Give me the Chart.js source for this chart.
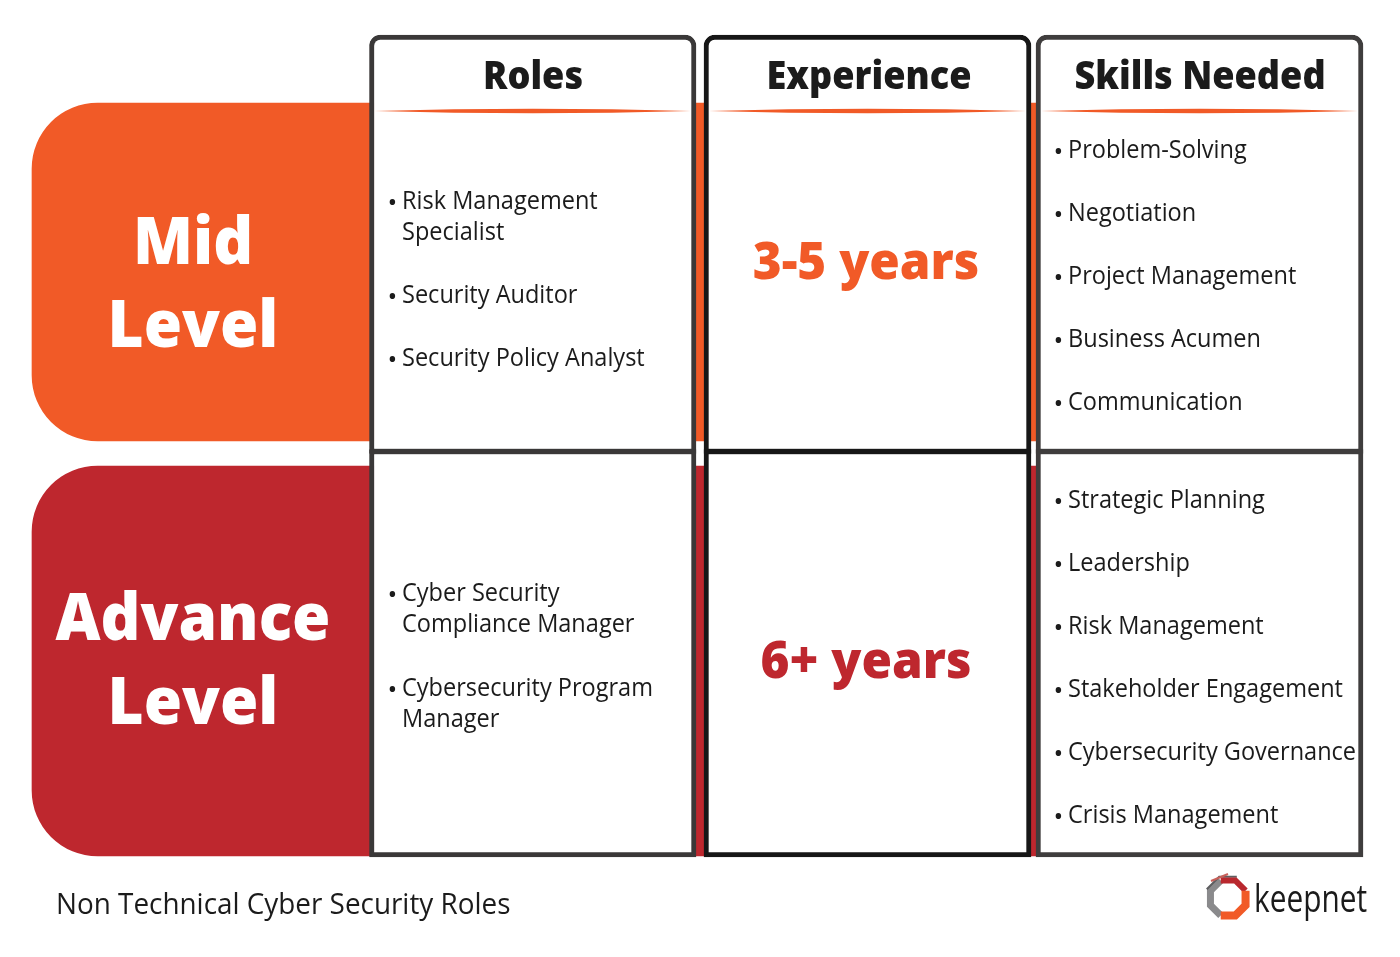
<!DOCTYPE html>
<html>
<head>
<meta charset="utf-8">
<style>html,body{margin:0;padding:0;background:#fff}#w{position:relative;width:1400px;height:957px}</style>
<script src="https://cdn.jsdelivr.net/npm/chart.js@4"></script>
</head>
<body>
<div id="w"><canvas id="c" width="1400" height="957"></canvas></div>
<script>
const levelLines = [["Mid","Level"],["Advance","Level"]];
const columnTitles = ["Roles","Experience","Skills Needed"];
const experience = ["3-5 years","6+ years"];
const midRoles = [["Risk Management","Specialist"],["Security Auditor"],["Security Policy Analyst"]];
const advanceRoles = [["Cyber Security","Compliance Manager"],["Cybersecurity Program","Manager"]];
const midSkills = ["Problem-Solving","Negotiation","Project Management","Business Acumen","Communication"];
const advanceSkills = ["Strategic Planning","Leadership","Risk Management","Stakeholder Engagement","Cybersecurity Governance","Crisis Management"];
const footerTitle = "Non Technical Cyber Security Roles";
const brand = "keepnet";
const bandStart = [32,32];
const bandEnd = [1036,1036];
const bandTop = [103,466];
const bandBottom = [441,856];
const columnStart = [369.5,704,1036];
const columnEnd = [696,1031,1363];
const rowTop = [35,449.5];
const rowBottom = [453.5,857];

const ORANGE="#F15A27", RED="#BE272E", INK="#1b1b1b";
const levelColors=[ORANGE,RED];
const columnBorders=["#3a3838","#171717","#3f3d3d"];

const datasets=[];
bandStart.forEach((s,i)=>datasets.push({
  label:levelLines[i].join(" "),
  data:[{x:[s,bandEnd[i]],y:(bandTop[i]+bandBottom[i])/2}],
  barThickness:bandBottom[i]-bandTop[i],
  backgroundColor:levelColors[i],borderWidth:0,borderSkipped:false,
  borderRadius:{topLeft:66,bottomLeft:66,topRight:0,bottomRight:0},
  grouped:false,order:3
}));
[1,0].forEach(r=>columnStart.forEach((s,c)=>datasets.push({
  label:columnTitles[c]+" "+levelLines[r].join(" "),
  data:[{x:[s,columnEnd[c]],y:(rowTop[r]+rowBottom[r])/2}],
  barThickness:rowBottom[r]-rowTop[r],
  backgroundColor:"#fff",borderColor:columnBorders[c],borderWidth:5,borderSkipped:false,
  borderRadius:r===0?{topLeft:11,topRight:11,bottomLeft:0,bottomRight:0}:0,
  grouped:false,order:2
})));

function put(ctx,s,x,y,font,color,k,align){
  ctx.font=font;ctx.fillStyle=color;ctx.textAlign=align||"left";ctx.textBaseline="alphabetic";
  const w=ctx.measureText(s).width;
  ctx.fillText(s,x,y,w*k);
}
const BODY="400 26px 'Open Sans'", BK=0.905;
function item(ctx,lines,bx,tx,y,lh){
  put(ctx,"•",bx,y+2,"400 26px 'Open Sans'",INK,1);
  lines.forEach((l,i)=>put(ctx,l,tx,y+i*lh,BODY,INK,BK));
}
function lens(ctx,x0,x1,y,h){
  ctx.fillStyle=ORANGE;ctx.beginPath();
  ctx.moveTo(x0,y);ctx.quadraticCurveTo(x0+(x1-x0)*0.25,y-h,(x0+x1)/2,y-h);ctx.quadraticCurveTo(x0+(x1-x0)*0.75,y-h,x1,y);
  ctx.quadraticCurveTo(x0+(x1-x0)*0.75,y+h,(x0+x1)/2,y+h);ctx.quadraticCurveTo(x0+(x1-x0)*0.25,y+h,x0,y);ctx.fill();
}
function logo(ctx){
  const cx=1228,cy=898,R=19;
  const seg=(a0,a1,col,lw,rr)=>{
    ctx.strokeStyle=col;ctx.lineWidth=lw;ctx.lineJoin="miter";ctx.beginPath();
    for(let a=a0;a<=a1+0.1;a+=45){
      const t=a*Math.PI/180,px=cx+(rr||R)*Math.cos(t),py=cy+(rr||R)*Math.sin(t);
      a===a0?ctx.moveTo(px,py):ctx.lineTo(px,py);
    }
    ctx.stroke();
  };
  seg(112.5,247.5,"#8a8a8c",7);
  seg(202.5,292.5,"#5e5e60",2,23);
  seg(247.5,337.5,"#B9282E",6);
  seg(225,292.5,"#c8605a",2,24);
  seg(337.5,472.5,"#F15A27",8);
}
const textPlugin={id:"text",afterDatasetsDraw(chart){
  const ctx=chart.ctx,X=chart.scales.x,Y=chart.scales.y;
  ctx.save();
  columnStart.forEach((s,i)=>lens(ctx,X.getPixelForValue(s)+5,X.getPixelForValue(columnEnd[i])-5,Y.getPixelForValue(111),2.2));
  const tx=[533,869,1200];
  columnTitles.forEach((t,i)=>put(ctx,t,tx[i],Y.getPixelForValue(89),"800 38px 'Open Sans'",INK,0.95,"center"));
  const bl=[[264,347],[640,724]];
  levelLines.forEach((ls,i)=>ls.forEach((l,j)=>put(ctx,l,193,Y.getPixelForValue(bl[i][j]),"800 66px 'Open Sans'","#fff",0.94,"center")));
  const ey=[279,678];
  experience.forEach((t,i)=>put(ctx,t,866,Y.getPixelForValue(ey[i]),"800 52px 'Open Sans'",levelColors[i],0.95,"center"));
  [209,303,366].forEach((y,i)=>item(ctx,midRoles[i],387.5,402,y,31));
  [601,696].forEach((y,i)=>item(ctx,advanceRoles[i],387.5,402,y,31));
  midSkills.forEach((t,i)=>item(ctx,[t],1053.5,1068,158+63*i,31));
  advanceSkills.forEach((t,i)=>item(ctx,[t],1053.5,1068,508+63*i,31));
  put(ctx,footerTitle,56,914,"400 30px 'Open Sans'",INK,0.929);
  put(ctx,brand,1254,912,"400 39px 'Open Sans'",INK,0.765);
  logo(ctx);
  ctx.restore();
}};
new Chart(document.getElementById("c"),{
  type:"bar",
  data:{datasets},
  options:{
    indexAxis:"y",responsive:false,animation:false,devicePixelRatio:1,
    layout:{padding:0},
    scales:{
      x:{type:"linear",min:0,max:1400,display:false,offset:false},
      y:{type:"linear",min:0,max:957,reverse:true,display:false,offset:false}
    },
    plugins:{legend:{display:false},tooltip:{enabled:false},title:{display:false}}
  },
  plugins:[textPlugin]
});
</script>
</body>
</html>
